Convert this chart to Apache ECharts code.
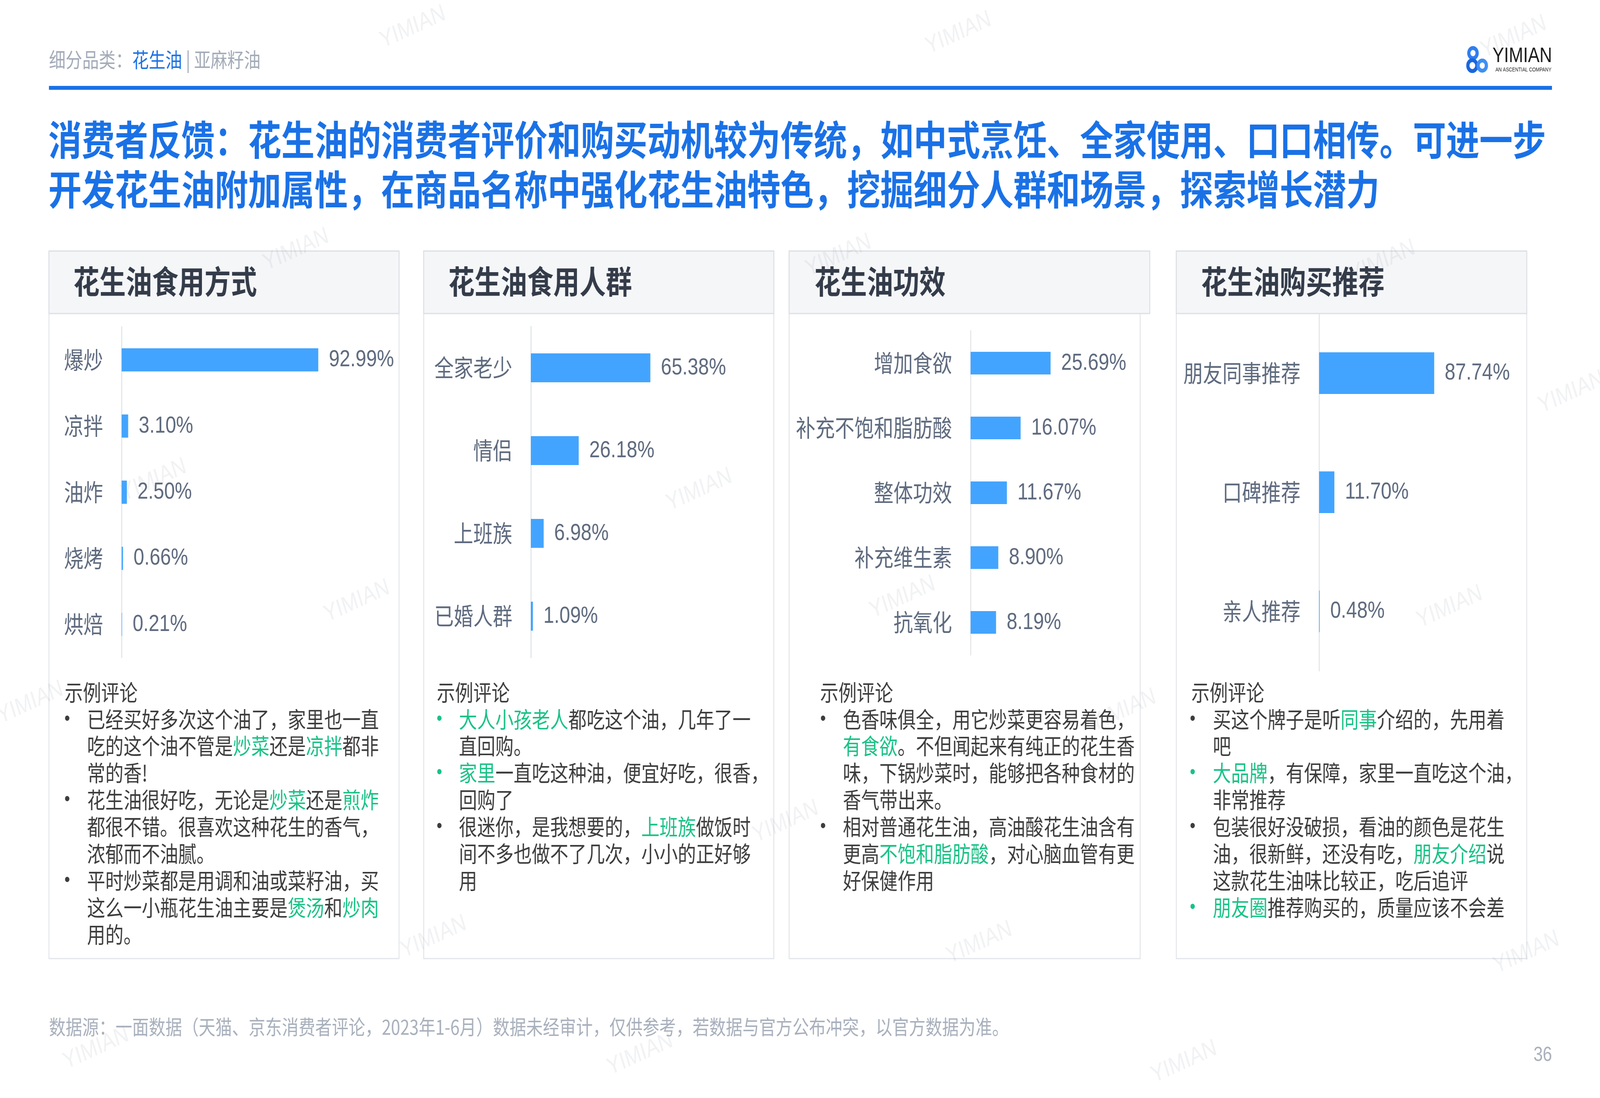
<!DOCTYPE html>
<html><head><meta charset="utf-8">
<script src="https://cdn.jsdelivr.net/npm/echarts@6/dist/echarts.min.js"></script>
<style>html,body{margin:0;padding:0;background:#fff;overflow:hidden}
#c{position:absolute;left:0;top:0;width:5000px;height:2812px;transform-origin:0 0}</style>
</head><body><div id="c"></div>
<script>
// ---------- data ----------
const cat1 = ['爆炒','凉拌','油炸','烧烤','烘焙'];
const val1 = [92.99,3.10,2.50,0.66,0.21];
const cat2 = ['全家老少','情侣','上班族','已婚人群'];
const val2 = [65.38,26.18,6.98,1.09];
const cat3 = ['增加食欲','补充不饱和脂肪酸','整体功效','补充维生素','抗氧化'];
const val3 = [25.69,16.07,11.67,8.90,8.19];
const cat4 = ['朋友同事推荐','口碑推荐','亲人推荐'];
const val4 = [87.74,11.70,0.48];
const panelTitles = ['花生油食用方式','花生油食用人群','花生油功效','花生油购买推荐'];
const commentHead = '示例评论';
const comments1 = [
 '•已经买好多次这个油了，家里也一直',
 '吃的这个油不管是[炒菜]还是[凉拌]都非',
 '常的香!',
 '•花生油很好吃，无论是[炒菜]还是[煎炸]',
 '都很不错。很喜欢这种花生的香气，',
 '浓郁而不油腻。',
 '•平时炒菜都是用调和油或菜籽油，买',
 '这么一小瓶花生油主要是[煲汤]和[炒肉]',
 '用的。'
];
const comments2 = [
 '•[大人小孩老人]都吃这个油，几年了一',
 '直回购。',
 '•[家里]一直吃这种油，便宜好吃，很香，',
 '回购了',
 '•很迷你，是我想要的，[上班族]做饭时',
 '间不多也做不了几次，小小的正好够',
 '用'
];
const comments3 = [
 '•色香味俱全，用它炒菜更容易着色，',
 '[有食欲]。不但闻起来有纯正的花生香',
 '味，下锅炒菜时，能够把各种食材的',
 '香气带出来。',
 '•相对普通花生油，高油酸花生油含有',
 '更高[不饱和脂肪酸]，对心脑血管有更',
 '好保健作用'
];
const comments4 = [
 '•买这个牌子是听[同事]介绍的，先用着',
 '吧',
 '•[大品牌]，有保障，家里一直吃这个油，',
 '非常推荐',
 '•包装很好没破损，看油的颜色是花生',
 '油，很新鲜，还没有吃，[朋友介绍]说',
 '这款花生油味比较正，吃后追评',
 '•[朋友圈]推荐购买的，质量应该不会差'
];
const headerPrefix = '细分品类：';
const headerActive = '花生油';
const headerRest = ' | 亚麻籽油';
const mainTitle1 = '消费者反馈：花生油的消费者评价和购买动机较为传统，如中式烹饪、全家使用、口口相传。可进一步';
const mainTitle2 = '开发花生油附加属性，在商品名称中强化花生油特色，挖掘细分人群和场景，探索增长潜力';
const footerText = '数据源：一面数据（天猫、京东消费者评论，2023年1-6月）数据未经审计，仅供参考，若数据与官方公布冲突，以官方数据为准。';
const pageNo = '36';
const brand = 'YIMIAN';
const brandSub = 'AN ASCENTIAL COMPANY';

// ---------- stage: designed at 5000 x 2812, fitted to the window ----------
const stage = document.getElementById('c');
stage.style.transform = 'scale(' + (window.innerWidth/5000) + ',' + (window.innerHeight/2812) + ')';

const FONT = '"Liberation Sans", "Noto Sans CJK SC", sans-serif';
const CJK = '"Noto Sans CJK SC", "Liberation Sans", sans-serif';
const BLUE = '#1a71e6';
const BAR = '#43a4ff';
const GREEN = '#19c286';
const TXT = '#3d3d3d';
const LBL = '#5e6a7e';

const panels = [
  {x:153,  w:1094, hw:1094, tx0:229,  hx:202,  bx:210,  tx:272,  comments:comments1},
  {x:1324, w:1094, hw:1094, tx0:1401, hx:1365, bx:1373, tx:1434, comments:comments2},
  {x:2466, w:1097, hw:1127, tx0:2545, hx:2563, bx:2572, tx:2634, comments:comments3},
  {x:3676, w:1095, hw:1095, tx0:3753, hx:3723, bx:3727, tx:3790, comments:comments4}
];
const PTOP = 643, PHEAD = 160, PBOT = 2455;
const CY0 = 1773, LH = 68.9;

const graphics = [];
function txt(o){
  const st = {x:o.x, y:o.y, text:o.text, fill:o.fill, fontSize:o.size, fontFamily:o.family||CJK,
    fontWeight:o.weight||'normal', align:o.align||'left', verticalAlign:'middle'};
  if(o.rich) st.rich = o.rich;
  graphics.push({type:'text', z:o.z||10, silent:true, rotation:o.rot||0, x:0, y:0, style:st});
}
// watermarks (faint, rotated)
const wm = [[1290,70],[2995,85],[4730,95],[925,640],[2620,655],[4320,670],[4910,1005],
  [480,1230],[2185,1255],[1115,1540],[2820,1530],[4530,1555],[95,1800],[3510,1820],
  [2455,2105],[1355,2400],[3060,2415],[4770,2440],[300,2685],[2000,2700],[3700,2720]];
wm.forEach(p=>{
  graphics.push({type:'text', z:-1, silent:true, x:p[0], y:p[1], rotation:0.36,
    style:{x:0, y:0, text:brand, fill:'rgba(120,130,145,0.10)', fontSize:62, fontFamily:FONT, align:'center', verticalAlign:'middle'}});
});
// header
txt({x:153, y:153, text:'{a|'+headerPrefix+'}{b|'+headerActive+'}{a|'+headerRest+'}',
  rich:{a:{fill:'#a3abb8', fontSize:52, fontFamily:CJK}, b:{fill:BLUE, fontSize:52, fontFamily:CJK}}});
// logo
[[4603,136,13,'#2f7ef0'],[4601,168,14,'#1a66dd'],[4632,168,13,'#3d8ff5']].forEach(c=>{
  graphics.push({type:'circle', z:10, silent:true, shape:{cx:c[0], cy:c[1], r:c[2]}, style:{fill:'none', stroke:c[3], lineWidth:10}});
});
txt({x:4850, y:144, align:'right', text:brand, fill:'#1a1a1a', size:54, family:FONT});
txt({x:4848, y:179, align:'right', text:brandSub, fill:'#1a1a1a', size:14, family:FONT});
// blue rule
graphics.push({type:'rect', z:10, silent:true, shape:{x:153, y:220, width:4697, height:10}, style:{fill:BLUE}});
// title
txt({x:151, y:358, text:mainTitle1, fill:BLUE, size:104, weight:'bold'});
txt({x:151, y:485, text:mainTitle2, fill:BLUE, size:104, weight:'bold'});

function richLine(str){
  let out = '';
  const re = /\[([^\]]+)\]|([^\[]+)/g; let m;
  while((m = re.exec(str))){ if(m[1]) out += '{g|'+m[1]+'}'; else out += '{n|'+m[2]+'}'; }
  return out;
}
panels.forEach((p,i)=>{
  graphics.push({type:'rect', z:-5, silent:true, shape:{x:p.x, y:PTOP, width:p.w, height:PBOT-PTOP}, style:{fill:'#fff', stroke:'#e2e5e9', lineWidth:3}});
  graphics.push({type:'rect', z:-4, silent:true, shape:{x:p.x, y:PTOP, width:p.hw, height:PHEAD}, style:{fill:'#f5f6f8', stroke:'#dcdfe4', lineWidth:3}});
  txt({x:p.tx0, y:PTOP+78, text:panelTitles[i], fill:'#343c4a', size:82, weight:'bold'});
  txt({x:p.hx, y:CY0, text:commentHead, fill:TXT, size:57});
  p.comments.forEach((line,j)=>{
    const y = CY0 + LH*(j+1);
    let str = line;
    if(str[0]==='•'){
      str = str.slice(1);
      const col = str[0]==='[' ? GREEN : TXT;
      txt({x:p.bx, y:y, align:'center', text:'•', fill:col, size:50, family:FONT});
    }
    txt({x:p.tx, y:y, text:richLine(str),
      rich:{n:{fill:TXT, fontSize:57, fontFamily:CJK}, g:{fill:GREEN, fontSize:57, fontFamily:CJK}}});
  });
});
// footer
txt({x:153, y:2630, text:footerText, fill:'#a8b0bc', size:52});
txt({x:4850, y:2703, align:'right', text:pageNo, fill:'#a9b0bb', size:52, family:FONT});

const grids = [
  {left:380,  top:837, width:661, height:847},
  {left:1659, top:836, width:571, height:848},
  {left:3033, top:847, width:292, height:830},
  {left:4122, top:803, width:410, height:915}
];
const maxes = [100,100,30,100];
const cats = [cat1,cat2,cat3,cat4];
const vals = [val1,val2,val3,val4];

const option = {
  animation:false,
  backgroundColor:'#fff',
  grid: grids,
  xAxis: grids.map((g,i)=>({type:'value', gridIndex:i, min:0, max:maxes[i], show:false})),
  yAxis: grids.map((g,i)=>({type:'category', gridIndex:i, data:cats[i], inverse:true,
    axisLine:{show:true, lineStyle:{color:'#dfe2e7', width:3}}, axisTick:{show:false},
    axisLabel:{fontSize:61, color:LBL, margin:58, fontFamily:CJK}, splitLine:{show:false}})),
  series: grids.map((g,i)=>({type:'bar', xAxisIndex:i, yAxisIndex:i, data:vals[i], barWidth:'35%',
    itemStyle:{color:BAR}, z:3,
    label:{show:true, position:'right', distance:33, fontSize:60, color:LBL, fontFamily:FONT,
      formatter:(p)=>p.value.toFixed(2)+'%'}})),
  graphic: graphics
};
const chart = echarts.init(stage);
chart.setOption(option);
</script></body></html>
